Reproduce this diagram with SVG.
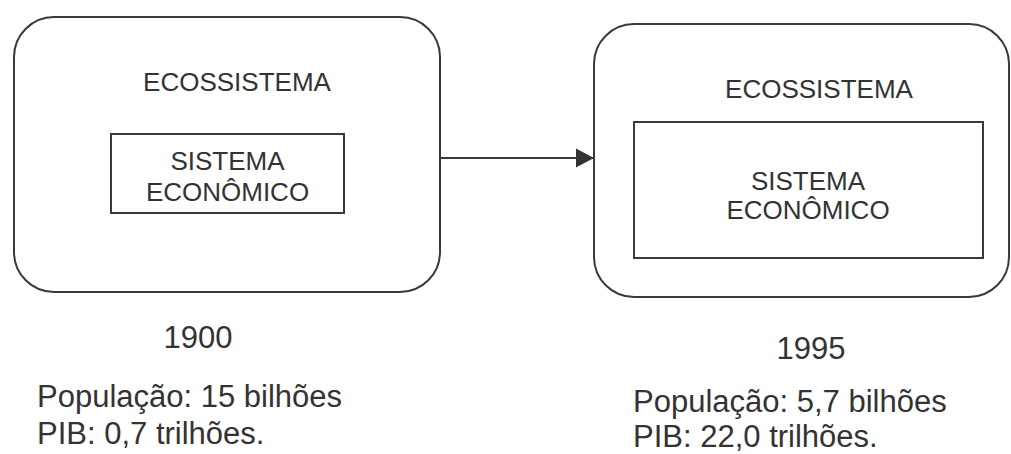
<svg xmlns="http://www.w3.org/2000/svg" width="1011" height="454" viewBox="0 0 1011 454">
  <style>
    .outer { fill: #ffffff; stroke: #3a3a3a; stroke-width: 2; }
    .inner { fill: #ffffff; stroke: #3a3a3a; stroke-width: 2; }
    .lbl { font-family: "Liberation Sans", Arial, sans-serif; font-size: 26px; fill: #333333; text-anchor: middle; }
    .cap { font-family: "Liberation Sans", Arial, sans-serif; font-size: 31px; fill: #333333; }
    .conn { stroke: #3a3a3a; stroke-width: 2; fill: none; }
  </style>
  <defs>
    <marker id="arrow" markerUnits="userSpaceOnUse" markerWidth="20" markerHeight="20" refX="18" refY="10" orient="auto">
      <path d="M0,0.5 L18,10 L0,19.5 Z" fill="#333333"/>
    </marker>
  </defs>
  <rect width="1011" height="454" fill="#ffffff"/>

  <g id="eco1900">
    <rect class="outer" x="14" y="17" width="426" height="275" rx="40" ry="40"/>
    <text class="lbl" x="237" y="91">ECOSSISTEMA</text>
    <g id="econ1900">
      <rect class="inner" x="111" y="134" width="233" height="79"/>
      <text class="lbl" x="227.5" y="170">SISTEMA</text>
      <text class="lbl" x="227.5" y="201">ECONÔMICO</text>
    </g>
  </g>

  <g id="eco1995">
    <rect class="outer" x="594" y="24" width="415" height="273" rx="40" ry="40"/>
    <text class="lbl" x="819" y="98">ECOSSISTEMA</text>
    <g id="econ1995">
      <rect class="inner" x="634" y="122" width="349" height="136"/>
      <text class="lbl" x="808" y="190">SISTEMA</text>
      <text class="lbl" x="808" y="219">ECONÔMICO</text>
    </g>
  </g>

  <g id="connectors">
    <line class="conn" x1="441" y1="158" x2="594" y2="158" marker-end="url(#arrow)"/>
  </g>

  <g id="caption1900">
    <text class="cap" x="198" y="348" text-anchor="middle">1900</text>
    <text class="cap" x="37" y="407">População: 15 bilhões</text>
    <text class="cap" x="37" y="444">PIB: 0,7 trilhões.</text>
  </g>

  <g id="caption1995">
    <text class="cap" x="811" y="359" text-anchor="middle">1995</text>
    <text class="cap" x="633" y="412">População: 5,7 bilhões</text>
    <text class="cap" x="633" y="447">PIB: 22,0 trilhões.</text>
  </g>
</svg>
